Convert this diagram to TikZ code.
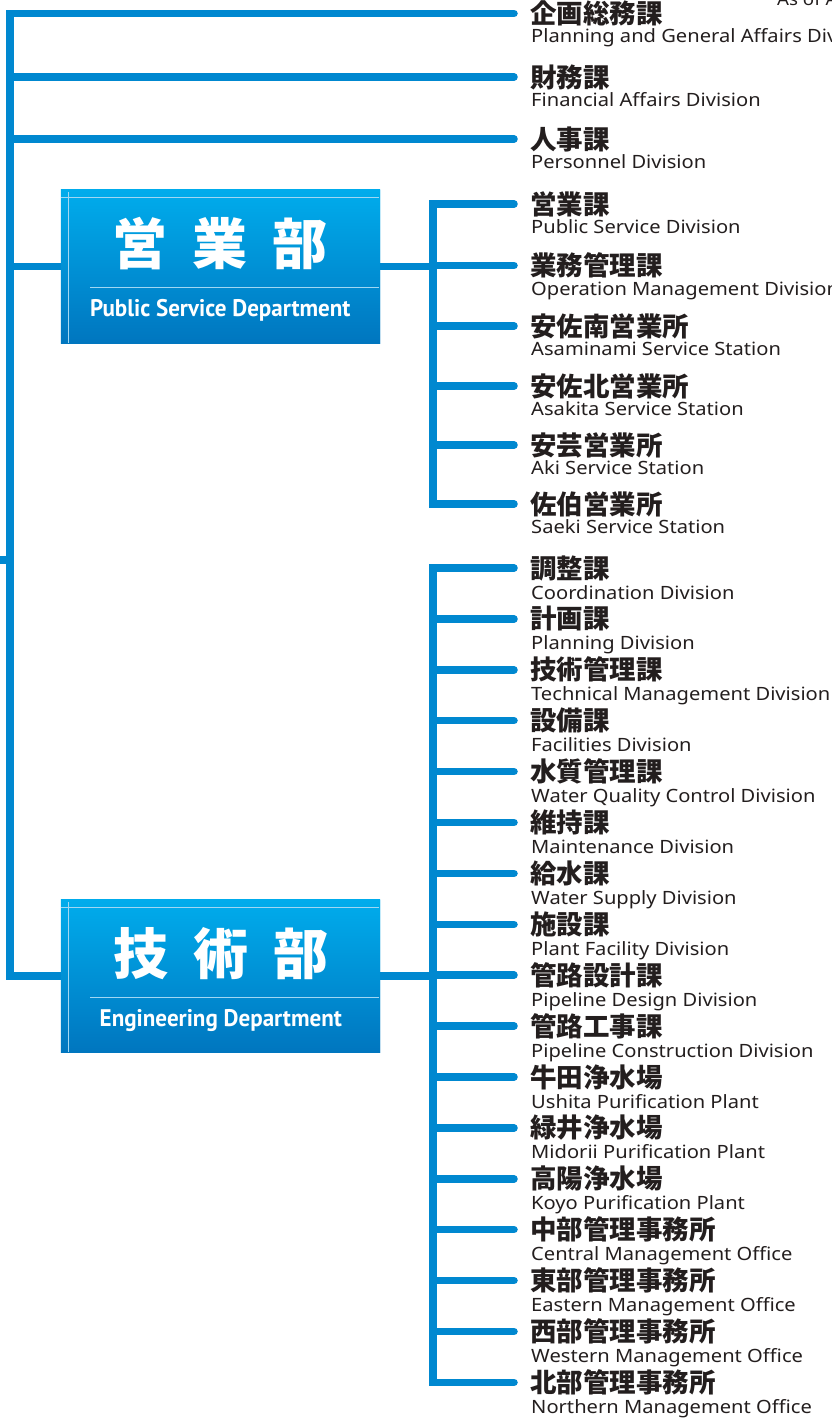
\documentclass[tikz,border=0pt]{standalone}
\usepackage{fontspec}
\usetikzlibrary{calc}
\newfontfamily\jp{Noto Sans CJK JP}
\newfontfamily\en{Noto Sans}[FakeStretch=1.1]
\newfontfamily\dep{PT Sans}[FakeStretch=0.96]
\definecolor{ln}{RGB}{0,136,208}
\definecolor{boxtop}{RGB}{0,172,236}
\definecolor{boxbot}{RGB}{0,118,191}
\definecolor{inner}{RGB}{160,215,243}
\definecolor{txt}{RGB}{35,30,30}
\tikzset{
  conn/.style={draw=ln, line width=7.5pt},
  branch/.style={conn, line cap=round},
  jpname/.style={anchor=base west, inner sep=0pt, text=txt, font=\jp\bfseries\fontsize{26.5}{26.5}\selectfont},
  enname/.style={anchor=base west, inner sep=0pt, text=txt, font=\en\fontsize{18.3}{18.3}\selectfont},
  deptbox/.style={rectangle, inner sep=0pt, minimum width=319pt, top color=boxtop, bottom color=boxbot, draw=none},
  innerline/.style={draw=inner, line width=1.2pt},
  depttitle/.style={anchor=base, inner sep=0pt, text=white, font=\jp\bfseries\fontsize{55}{55}\selectfont},
  deptsub/.style={anchor=base, inner sep=0pt, text=white, font=\dep\bfseries\fontsize{24}{24}\selectfont},
}
\begin{document}
\begin{tikzpicture}[x=1pt,y=-1pt]
\useasboundingbox (0,0) rectangle (832,1419);

% date note
\node[enname, font=\en\fontsize{17}{17}\selectfont] (asof) at (777,5) {As of April};

% main trunk
\coordinate (tk0) at (10,13.5);
\coordinate (tkend) at (10,976);
\coordinate (parent) at (0,560);
\coordinate (tkstub) at (10,560);
\coordinate (tkps) at (10,266.5);

% departments
\node[deptbox, minimum height=153pt] (ps) at (220.5,266.5) {};
\node[deptbox, minimum height=152pt] (eng) at (220.5,976) {};

% top-level divisions
\foreach \y/\j/\e/\n in {13.5/企画総務課/Planning and General Affairs Division/1, 77/財務課/Financial Affairs Division/2, 139/人事課/Personnel Division/3}{
  \node[jpname] (t\n) at (530,\y+10) {\j};
  \node[enname] (te\n) at (531,\y+29) {\e};
  \coordinate (tb\n) at (10,\y);
  \coordinate (tx\n) at (514,\y);
}
\draw[conn] (tx1) -- (tk0) -- (tkend) -- (eng.west);
\draw[branch] (tx1) -- (tk0);
\draw[branch] (tb2) -- (tx2);
\draw[branch] (tb3) -- (tx3);
\draw[conn] (tkps) -- (ps.west);
\draw[conn] (parent) -- (tkstub);

% Public Service sub divisions
\foreach \y/\j/\e [count=\i] in {204/営業課/Public Service Division, 265.5/業務管理課/Operation Management Division, 326/安佐南営業所/Asaminami Service Station, 386/安佐北営業所/Asakita Service Station, 445/安芸営業所/Aki Service Station, 504/佐伯営業所/Saeki Service Station}{
  \node[jpname] (p\i) at (530,\y+10) {\j};
  \node[enname] (pe\i) at (531,\y+29.5) {\e};
  \coordinate (pb\i) at (433,\y);
  \coordinate (px\i) at (514,\y);
}
\draw[conn] (px1) -- (pb1) -- (pb6) -- (px6);
\foreach \i in {1,...,6}{\draw[branch] (pb\i) -- (px\i);}
\coordinate (pjoin) at (433,266.5);
\draw[conn] (ps.east) -- (pjoin);

% Engineering sub divisions
\foreach \j/\e [count=\i] in {調整課/Coordination Division, 計画課/Planning Division, 技術管理課/Technical Management Division, 設備課/Facilities Division, 水質管理課/Water Quality Control Division, 維持課/Maintenance Division, 給水課/Water Supply Division, 施設課/Plant Facility Division, 管路設計課/Pipeline Design Division, 管路工事課/Pipeline Construction Division, 牛田浄水場/Ushita Purification Plant, 緑井浄水場/Midorii Purification Plant, 高陽浄水場/Koyo Purification Plant, 中部管理事務所/Central Management Office, 東部管理事務所/Eastern Management Office, 西部管理事務所/Western Management Office, 北部管理事務所/Northern Management Office}{
  \pgfmathsetmacro{\y}{568+(\i-1)*50.9}
  \node[jpname] (e\i) at (530,\y+10) {\j};
  \node[enname] (ee\i) at (531,\y+31) {\e};
  \coordinate (eb\i) at (433,\y);
  \coordinate (ex\i) at (514,\y);
}
\draw[conn] (ex1) -- (eb1) -- (eb17) -- (ex17);
\foreach \i in {1,...,17}{\draw[branch] (eb\i) -- (ex\i);}
\coordinate (ejoin) at (433,976);
\draw[conn] (eng.east) -- (ejoin);

% redraw boxes on top of connector ends
\foreach \b/\h in {ps/153, eng/152}{
  \path[top color=boxtop, bottom color=boxbot] (\b.north west) rectangle (\b.south east);
  \draw[innerline] ($(\b.north west)+(8,2)$) -- ($(\b.south west)+(8,0)$);
  \draw[innerline] ($(\b.north west)+(0,8)$) -- ($(\b.north east)+(-1,8)$);
  \draw[innerline] ($(\b.north west)+(29,98)$) -- ($(\b.north east)+(-1,98)$);
}
\node[depttitle] (pst) at ($(ps.north west)+(159.5,75)$) {営\hspace{25pt}業\hspace{25pt}部};
\node[deptsub] (pss) at ($(ps.north west)+(159.5,126.7)$) {Public Service Department};
\node[depttitle] (engt) at ($(eng.north west)+(160,75)$) {技\hspace{25pt}術\hspace{25pt}部};
\node[deptsub] (engs) at ($(eng.north west)+(160,126.7)$) {Engineering Department};
\end{tikzpicture}
\end{document}
